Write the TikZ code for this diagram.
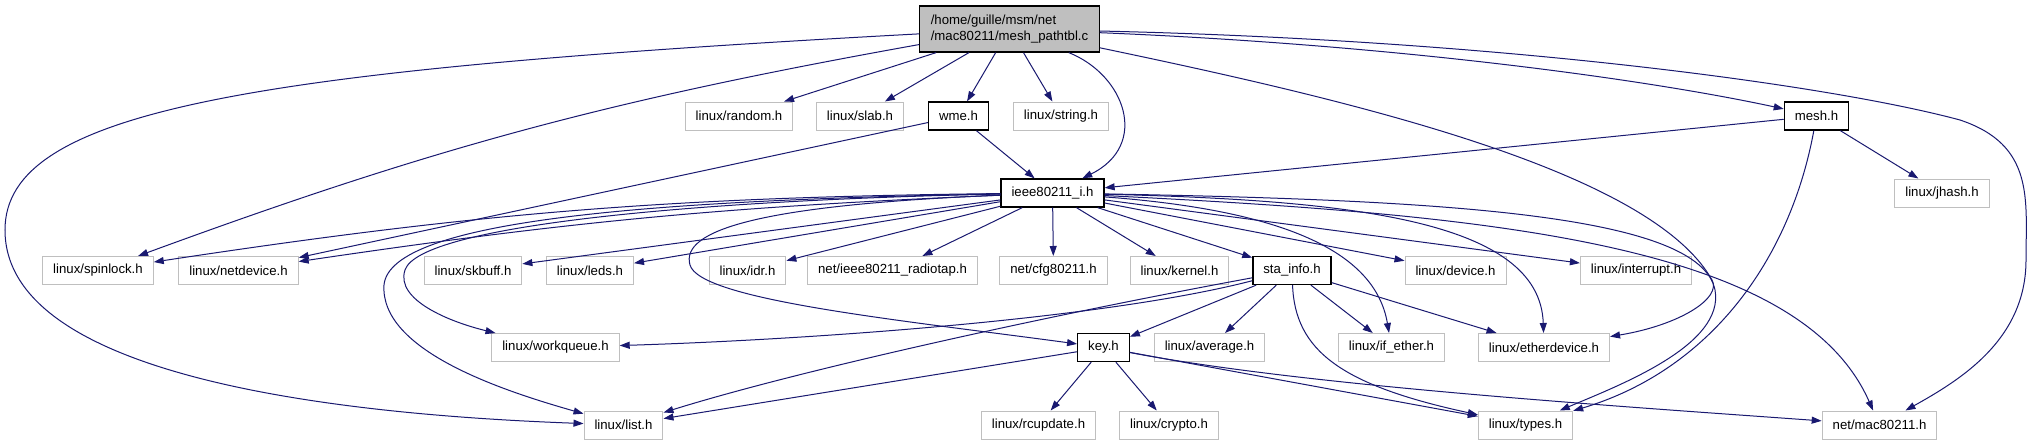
\documentclass[tikz,border=0pt]{standalone}
\usepackage{fontspec}
\setmainfont{Liberation Sans}
\usetikzlibrary{arrows.meta}
\definecolor{edgeblue}{RGB}{25,25,112}
\definecolor{boxgray}{RGB}{191,191,191}

\begin{document}
\begin{tikzpicture}[
    x=1pt, y=-1pt,
    file/.style={draw=boxgray, fill=white, line width=1pt, minimum height=28pt, inner xsep=10.5pt, inner ysep=0pt, font=\fontsize{13.2}{16.5}\selectfont},
    docfile/.style={file, draw=black, line width=1.3pt},
    dep/.style={draw=edgeblue, line width=1pt, -{Triangle[length=10pt,width=7pt]}}
]
\useasboundingbox[fill=white] (0,0) rectangle (2032,445);
% Include graph of mesh_pathtbl.c
\node [docfile, fill=boxgray, align=left, minimum height=46pt, inner xsep=11pt] (src) at (1009.5,29) {/home/guille/msm/net\\/mac80211/mesh\_pathtbl.c};

\node [file] (random) at (739,116) {linux/random.h};
\node [file] (slab) at (860,116) {linux/slab.h};
\node [docfile] (wme) at (958.5,116) {wme.h};
\node [file] (string) at (1061,116) {linux/string.h};
\node [docfile] (mesh) at (1816.5,116) {mesh.h};

\node [docfile] (ieee) at (1052.5,193) {ieee80211\_i.h};
\node [file] (jhash) at (1942,193) {linux/jhash.h};

\node [file] (spinlock) at (98,270.5) {linux/spinlock.h};
\node [file] (netdevice) at (238.5,270.5) {linux/netdevice.h};
\node [file] (skbuff) at (473,270.5) {linux/skbuff.h};
\node [file] (leds) at (590,270.5) {linux/leds.h};
\node [file] (idr) at (747.5,270.5) {linux/idr.h};
\node [file] (radiotap) at (892.5,270.5) {net/ieee80211\_radiotap.h};
\node [file] (cfg) at (1053.5,270.5) {net/cfg80211.h};
\node [file] (kernel) at (1179.5,270.5) {linux/kernel.h};
\node [docfile] (stainfo) at (1292,270.5) {sta\_info.h};
\node [file] (device) at (1455.5,270.5) {linux/device.h};
\node [file] (interrupt) at (1636,270.5) {linux/interrupt.h};

\node [file] (workqueue) at (555.5,347.5) {linux/workqueue.h};
\node [docfile] (key) at (1103.5,347.5) {key.h};
\node [file] (average) at (1209.5,347.5) {linux/average.h};
\node [file] (ifether) at (1391.5,347.5) {linux/if\_ether.h};
\node [file] (etherdev) at (1544,347.5) {linux/etherdevice.h};

\node [file] (list) at (623.5,425) {linux/list.h};
\node [file] (rcupdate) at (1038.5,425) {linux/rcupdate.h};
\node [file] (crypto) at (1169,425) {linux/crypto.h};
\node [file] (types) at (1525.5,425) {linux/types.h};
\node [file] (mac) at (1879.5,425) {net/mac80211.h};

% mesh_pathtbl.c
\draw [dep] (src) .. controls (250,70) and (5,110) .. (5,230) .. controls (5,380) and (350,415) .. (list);
\draw [dep] (src) to[bend right=5] (spinlock);
\draw [dep] (src) -- (random);
\draw [dep] (src) -- (slab);
\draw [dep] (src) -- (wme);
\draw [dep] (src) -- (string);
\draw [dep] (src) .. controls (1125,75) and (1150,145) .. (ieee);
\draw [dep] (src) .. controls (1400,45) and (1650,80) .. (mesh);
\draw [dep] (src) .. controls (1350,100) and (1650,170) .. (1712,280) .. controls (1722,298) and (1680,325) .. (etherdev);
\draw [dep] (src) .. controls (1500,40) and (1830,85) .. (1960,120) .. controls (2035,145) and (2026,200) .. (2026,260) .. controls (2026,340) and (1960,380) .. (mac);

% wme.h and mesh.h
\draw [dep] (wme) -- (ieee);
\draw [dep] (wme) -- (netdevice);
\draw [dep] (mesh) -- (ieee);
\draw [dep] (mesh) -- (jhash);
\draw [dep] (mesh) .. controls (1790,260) and (1710,370) .. (types);

% ieee80211_i.h
\draw [dep] (ieee) to[bend right=4] (spinlock);
\draw [dep] (ieee) to[bend right=3] (netdevice);
\draw [dep] (ieee) -- (skbuff);
\draw [dep] (ieee) -- (leds);
\draw [dep] (ieee) .. controls (700,200) and (420,225) .. (405,270) .. controls (395,300) and (450,322) .. (workqueue);
\draw [dep] (ieee) .. controls (650,200) and (390,220) .. (384,285) .. controls (380,350) and (500,390) .. (list);
\draw [dep] (ieee) .. controls (760,205) and (680,230) .. (690,265) .. controls (700,300) and (900,320) .. (key);
\draw [dep] (ieee) -- (idr);
\draw [dep] (ieee) -- (radiotap);
\draw [dep] (ieee) -- (cfg);
\draw [dep] (ieee) -- (kernel);
\draw [dep] (ieee) -- (stainfo);
\draw [dep] (ieee) -- (device);
\draw [dep] (ieee) -- (interrupt);
\draw [dep] (ieee) .. controls (1280,210) and (1375,250) .. (ifether);
\draw [dep] (ieee) .. controls (1350,200) and (1540,220) .. (etherdev);
\draw [dep] (ieee) .. controls (1450,200) and (1700,215) .. (1715,290) .. controls (1725,345) and (1620,385) .. (types);
\draw [dep] (ieee) .. controls (1500,215) and (1800,245) .. (mac);

% sta_info.h
\draw [dep] (stainfo) .. controls (1100,320) and (800,340) .. (workqueue);
\draw [dep] (stainfo) .. controls (1050,315) and (800,370) .. (list);
\draw [dep] (stainfo) -- (key);
\draw [dep] (stainfo) -- (average);
\draw [dep] (stainfo) -- (ifether);
\draw [dep] (stainfo) -- (etherdev);
\draw [dep] (stainfo) .. controls (1295,350) and (1340,385) .. (types);

% key.h
\draw [dep] (key) -- (list);
\draw [dep] (key) -- (rcupdate);
\draw [dep] (key) -- (crypto);
\draw [dep] (key) -- (types);
\draw [dep] (key) .. controls (1300,385) and (1600,405) .. (mac);

\end{tikzpicture}
\end{document}
